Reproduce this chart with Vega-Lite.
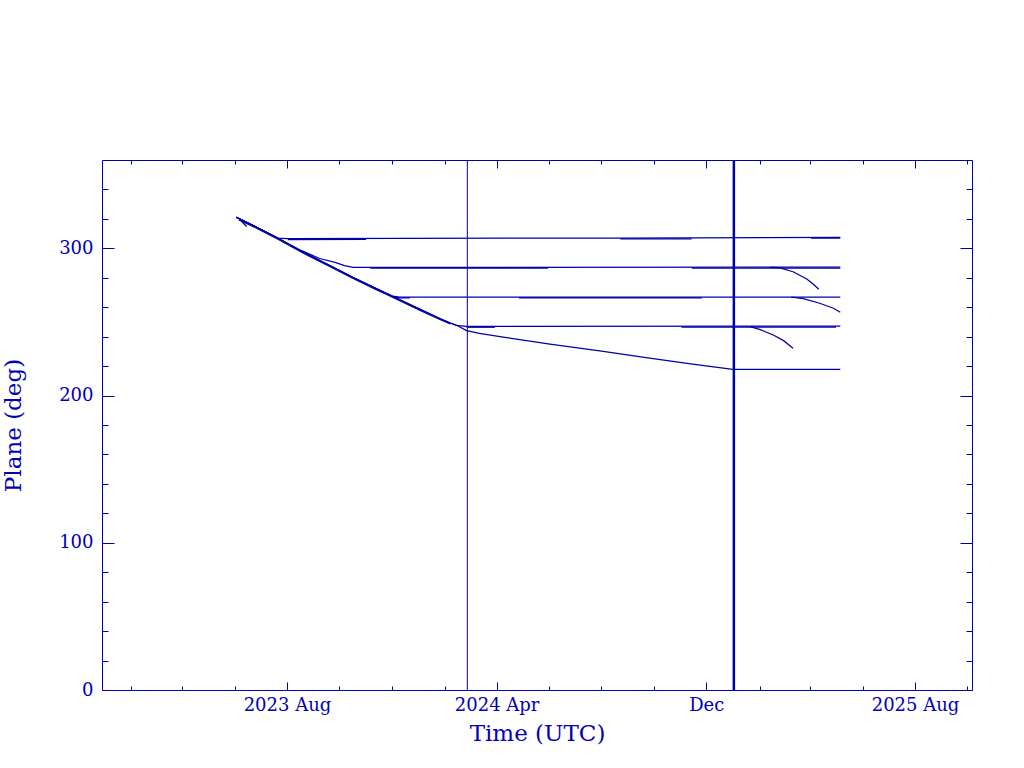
{
  "$schema": "https://vega.github.io/schema/vega-lite/v6.json",
  "width": 870,
  "height": 530,
  "autosize": "none",
  "padding": {"left": 102, "top": 160, "right": 52, "bottom": 78},
  "background": "white",
  "config": {
    "view": {"stroke": "#0000b0", "strokeWidth": 1},
    "axis": {
      "domain": false,
      "grid": false,
      "tickColor": "#0000b0",
      "tickWidth": 1,
      "labelColor": "#0000b8",
      "titleColor": "#0000b8",
      "labelFont": "DejaVu Serif",
      "titleFont": "DejaVu Serif",
      "labelFontSize": 18,
      "titleFontSize": 23,
      "titleFontWeight": "normal",
      "labelOverlap": false,
      "labelFlush": false,
      "labelBound": false
    }
  },
  "datasets": {
    "planes": [
      {"s": "P307", "t": "2023-06-03", "v": 321.1},
      {"s": "P307", "t": "2023-06-26", "v": 314.5},
      {"s": "P307", "t": "2023-07-21", "v": 307.0},
      {"s": "P307", "t": "2023-08-02", "v": 306.6},
      {"s": "P307", "t": "2024-08-23", "v": 307.0},
      {"s": "P307", "t": "2025-05-06", "v": 307.5},
      {"s": "P287", "t": "2023-06-03", "v": 321.1},
      {"s": "P287", "t": "2023-06-26", "v": 314.5},
      {"s": "P287", "t": "2023-07-21", "v": 307.0},
      {"s": "P287", "t": "2023-08-18", "v": 298.4},
      {"s": "P287", "t": "2023-09-08", "v": 293.1},
      {"s": "P287", "t": "2023-09-26", "v": 290.4},
      {"s": "P287", "t": "2023-10-07", "v": 288.3},
      {"s": "P287", "t": "2023-10-17", "v": 287.1},
      {"s": "P287", "t": "2025-05-06", "v": 287.2},
      {"s": "P267", "t": "2023-06-03", "v": 321.1},
      {"s": "P267", "t": "2023-06-26", "v": 314.5},
      {"s": "P267", "t": "2023-07-21", "v": 307.0},
      {"s": "P267", "t": "2023-08-18", "v": 297.9},
      {"s": "P267", "t": "2023-09-22", "v": 287.7},
      {"s": "P267", "t": "2023-10-17", "v": 280.2},
      {"s": "P267", "t": "2023-11-11", "v": 273.1},
      {"s": "P267", "t": "2023-11-25", "v": 269.3},
      {"s": "P267", "t": "2023-12-02", "v": 267.6},
      {"s": "P267", "t": "2023-12-10", "v": 266.9},
      {"s": "P267", "t": "2025-05-06", "v": 266.9},
      {"s": "P247", "t": "2023-06-03", "v": 321.1},
      {"s": "P247", "t": "2023-06-26", "v": 314.5},
      {"s": "P247", "t": "2023-07-21", "v": 307.0},
      {"s": "P247", "t": "2023-08-18", "v": 297.9},
      {"s": "P247", "t": "2023-09-22", "v": 287.7},
      {"s": "P247", "t": "2023-10-17", "v": 280.2},
      {"s": "P247", "t": "2023-11-11", "v": 273.1},
      {"s": "P247", "t": "2023-11-25", "v": 269.3},
      {"s": "P247", "t": "2024-01-03", "v": 258.5},
      {"s": "P247", "t": "2024-01-26", "v": 252.3},
      {"s": "P247", "t": "2024-02-07", "v": 249.3},
      {"s": "P247", "t": "2024-02-14", "v": 247.7},
      {"s": "P247", "t": "2024-02-26", "v": 247.0},
      {"s": "P247", "t": "2025-05-06", "v": 247.1},
      {"s": "P217", "t": "2023-06-03", "v": 321.1},
      {"s": "P217", "t": "2023-06-26", "v": 314.5},
      {"s": "P217", "t": "2023-07-21", "v": 307.0},
      {"s": "P217", "t": "2023-08-18", "v": 297.9},
      {"s": "P217", "t": "2023-09-22", "v": 287.7},
      {"s": "P217", "t": "2023-10-17", "v": 280.2},
      {"s": "P217", "t": "2023-11-11", "v": 273.1},
      {"s": "P217", "t": "2023-11-25", "v": 269.3},
      {"s": "P217", "t": "2024-01-03", "v": 258.5},
      {"s": "P217", "t": "2024-01-26", "v": 252.3},
      {"s": "P217", "t": "2024-02-07", "v": 249.3},
      {"s": "P217", "t": "2024-02-14", "v": 247.9},
      {"s": "P217", "t": "2024-02-26", "v": 244.1},
      {"s": "P217", "t": "2024-03-12", "v": 242.2},
      {"s": "P217", "t": "2024-04-05", "v": 240.0},
      {"s": "P217", "t": "2024-06-02", "v": 235.0},
      {"s": "P217", "t": "2024-07-30", "v": 230.3},
      {"s": "P217", "t": "2024-09-26", "v": 225.5},
      {"s": "P217", "t": "2024-11-15", "v": 221.4},
      {"s": "P217", "t": "2025-01-01", "v": 217.8},
      {"s": "P217", "t": "2025-05-06", "v": 217.8}
    ],
    "doubles": [
      {"s": "DM", "t": "2023-06-06", "v": 319.3},
      {"s": "DM", "t": "2023-06-26", "v": 313.9},
      {"s": "DM", "t": "2023-07-21", "v": 306.4},
      {"s": "DM", "t": "2023-08-18", "v": 297.3},
      {"s": "DM", "t": "2023-09-22", "v": 287.1},
      {"s": "DM", "t": "2023-10-17", "v": 279.6},
      {"s": "DM", "t": "2023-11-11", "v": 272.5},
      {"s": "DM", "t": "2023-11-25", "v": 268.7},
      {"s": "DM", "t": "2024-01-03", "v": 257.9},
      {"s": "DM", "t": "2024-01-26", "v": 251.7},
      {"s": "DM", "t": "2024-02-07", "v": 248.7},
      {"s": "D307a", "t": "2023-08-02", "v": 306.0},
      {"s": "D307a", "t": "2023-11-01", "v": 306.1},
      {"s": "D307b", "t": "2024-08-23", "v": 306.4},
      {"s": "D307b", "t": "2024-11-14", "v": 306.5},
      {"s": "D307c", "t": "2025-04-02", "v": 306.85},
      {"s": "D307c", "t": "2025-05-06", "v": 306.9},
      {"s": "D287a", "t": "2023-11-06", "v": 286.5},
      {"s": "D287a", "t": "2024-05-31", "v": 286.55},
      {"s": "D287b", "t": "2024-11-14", "v": 286.6},
      {"s": "D287b", "t": "2025-05-06", "v": 286.6},
      {"s": "D267a", "t": "2023-12-02", "v": 267.0},
      {"s": "D267a", "t": "2023-12-10", "v": 266.3},
      {"s": "D267a", "t": "2023-12-22", "v": 266.3},
      {"s": "D267b", "t": "2024-04-27", "v": 266.3},
      {"s": "D267b", "t": "2024-11-26", "v": 266.3},
      {"s": "D247a", "t": "2024-02-26", "v": 246.4},
      {"s": "D247a", "t": "2024-03-30", "v": 246.4},
      {"s": "D247b", "t": "2024-11-02", "v": 246.5},
      {"s": "D247b", "t": "2025-05-01", "v": 246.5}
    ],
    "decays": [
      {"s": "E287", "t": "2025-02-13", "v": 287.1},
      {"s": "E287", "t": "2025-02-24", "v": 286.9},
      {"s": "E287", "t": "2025-03-12", "v": 284.1},
      {"s": "E287", "t": "2025-03-28", "v": 279.2},
      {"s": "E287", "t": "2025-04-04", "v": 275.9},
      {"s": "E287", "t": "2025-04-11", "v": 272.2},
      {"s": "E267", "t": "2025-03-10", "v": 266.9},
      {"s": "E267", "t": "2025-03-24", "v": 265.8},
      {"s": "E267", "t": "2025-04-12", "v": 262.7},
      {"s": "E267", "t": "2025-04-28", "v": 259.3},
      {"s": "E267", "t": "2025-05-06", "v": 256.6},
      {"s": "E247", "t": "2025-01-21", "v": 246.8},
      {"s": "E247", "t": "2025-02-01", "v": 245.0},
      {"s": "E247", "t": "2025-02-17", "v": 241.1},
      {"s": "E247", "t": "2025-03-01", "v": 237.3},
      {"s": "E247", "t": "2025-03-12", "v": 232.1}
    ],
    "twig": [
      {"s": "T1", "t": "2023-06-06", "v": 320.4},
      {"s": "T1", "t": "2023-06-15", "v": 314.8}
    ],
    "eventA": [{"t": "2024-02-26T22:00:00Z"}],
    "eventB": [{"t": "2025-01-02T03:00:00Z"}]
  },
  "resolve": {"axis": {"x": "independent", "y": "independent"}},
  "layer": [
    {
      "data": {"name": "planes"},
      "mark": {"type": "line", "color": "#0000a8", "strokeWidth": 1.25},
      "encoding": {
        "x": {
          "field": "t", "type": "temporal",
          "scale": {"type": "utc", "nice": false, "domain": [{"year": 2022, "month": 12, "date": 28, "hours": 17, "utc": true}, {"year": 2025, "month": 10, "date": 6, "hours": 7, "utc": true}]},
          "axis": {
            "orient": "bottom",
            "title": "Time (UTC)",
            "titlePadding": 8,
            "values": [
              {"year": 2023, "month": 8, "date": 1, "utc": true},
              {"year": 2024, "month": 4, "date": 1, "utc": true},
              {"year": 2024, "month": 12, "date": 1, "utc": true},
              {"year": 2025, "month": 8, "date": 1, "utc": true}
            ],
            "tickSize": -8,
            "labelPadding": 14,
            "labelExpr": "utcFormat(datum.value, '%m') == '12' ? 'Dec' : utcFormat(datum.value, '%Y %b')"
          }
        },
        "y": {
          "field": "v", "type": "quantitative",
          "scale": {"domain": [0, 360], "nice": false, "zero": true},
          "axis": {
            "orient": "left",
            "title": "Plane (deg)",
            "titlePadding": 33,
            "values": [0, 100, 200, 300],
            "tickSize": -12,
            "labelPadding": 21
          }
        },
        "detail": {"field": "s"}
      }
    },
    {
      "data": {"name": "doubles"},
      "mark": {"type": "line", "color": "#0000a8", "strokeWidth": 1.25},
      "encoding": {
        "x": {
          "field": "t", "type": "temporal",
          "scale": {"type": "utc", "nice": false, "domain": [{"year": 2022, "month": 12, "date": 28, "hours": 17, "utc": true}, {"year": 2025, "month": 10, "date": 6, "hours": 7, "utc": true}]},
          "axis": {
            "orient": "bottom", "title": null, "labels": false, "tickSize": -4,
            "values": [
              {"year": 2023, "month": 2, "date": 1, "utc": true},
              {"year": 2023, "month": 4, "date": 1, "utc": true},
              {"year": 2023, "month": 6, "date": 1, "utc": true},
              {"year": 2023, "month": 10, "date": 1, "utc": true},
              {"year": 2023, "month": 12, "date": 1, "utc": true},
              {"year": 2024, "month": 2, "date": 1, "utc": true},
              {"year": 2024, "month": 6, "date": 1, "utc": true},
              {"year": 2024, "month": 8, "date": 1, "utc": true},
              {"year": 2024, "month": 10, "date": 1, "utc": true},
              {"year": 2025, "month": 2, "date": 1, "utc": true},
              {"year": 2025, "month": 4, "date": 1, "utc": true},
              {"year": 2025, "month": 6, "date": 1, "utc": true},
              {"year": 2025, "month": 10, "date": 1, "utc": true}
            ]
          }
        },
        "y": {
          "field": "v", "type": "quantitative",
          "scale": {"domain": [0, 360], "nice": false, "zero": true},
          "axis": {
            "orient": "left", "title": null, "labels": false, "tickSize": -6,
            "values": [20, 40, 60, 80, 120, 140, 160, 180, 220, 240, 260, 280, 320, 340]
          }
        },
        "detail": {"field": "s"}
      }
    },
    {
      "data": {"name": "decays"},
      "mark": {"type": "line", "color": "#0000a8", "strokeWidth": 1.25},
      "encoding": {
        "x": {
          "field": "t", "type": "temporal",
          "scale": {"type": "utc", "nice": false, "domain": [{"year": 2022, "month": 12, "date": 28, "hours": 17, "utc": true}, {"year": 2025, "month": 10, "date": 6, "hours": 7, "utc": true}]},
          "axis": {
            "orient": "top", "title": null, "labels": false, "tickSize": -8,
            "values": [
              {"year": 2023, "month": 8, "date": 1, "utc": true},
              {"year": 2024, "month": 4, "date": 1, "utc": true},
              {"year": 2024, "month": 12, "date": 1, "utc": true},
              {"year": 2025, "month": 8, "date": 1, "utc": true}
            ]
          }
        },
        "y": {
          "field": "v", "type": "quantitative",
          "scale": {"domain": [0, 360], "nice": false, "zero": true},
          "axis": {
            "orient": "right", "title": null, "labels": false, "tickSize": -12,
            "values": [0, 100, 200, 300]
          }
        },
        "detail": {"field": "s"}
      }
    },
    {
      "data": {"name": "twig"},
      "mark": {"type": "line", "color": "#0000a8", "strokeWidth": 1.25},
      "encoding": {
        "x": {
          "field": "t", "type": "temporal",
          "scale": {"type": "utc", "nice": false, "domain": [{"year": 2022, "month": 12, "date": 28, "hours": 17, "utc": true}, {"year": 2025, "month": 10, "date": 6, "hours": 7, "utc": true}]},
          "axis": {
            "orient": "top", "title": null, "labels": false, "tickSize": -4,
            "values": [
              {"year": 2023, "month": 2, "date": 1, "utc": true},
              {"year": 2023, "month": 4, "date": 1, "utc": true},
              {"year": 2023, "month": 6, "date": 1, "utc": true},
              {"year": 2023, "month": 10, "date": 1, "utc": true},
              {"year": 2023, "month": 12, "date": 1, "utc": true},
              {"year": 2024, "month": 2, "date": 1, "utc": true},
              {"year": 2024, "month": 6, "date": 1, "utc": true},
              {"year": 2024, "month": 8, "date": 1, "utc": true},
              {"year": 2024, "month": 10, "date": 1, "utc": true},
              {"year": 2025, "month": 2, "date": 1, "utc": true},
              {"year": 2025, "month": 4, "date": 1, "utc": true},
              {"year": 2025, "month": 6, "date": 1, "utc": true},
              {"year": 2025, "month": 10, "date": 1, "utc": true}
            ]
          }
        },
        "y": {
          "field": "v", "type": "quantitative",
          "scale": {"domain": [0, 360], "nice": false, "zero": true},
          "axis": {
            "orient": "right", "title": null, "labels": false, "tickSize": -6,
            "values": [20, 40, 60, 80, 120, 140, 160, 180, 220, 240, 260, 280, 320, 340]
          }
        },
        "detail": {"field": "s"}
      }
    },
    {
      "data": {"name": "eventA"},
      "mark": {"type": "rule", "color": "#0000a8", "strokeWidth": 1},
      "encoding": {
        "x": {
          "field": "t", "type": "temporal",
          "scale": {"type": "utc", "nice": false, "domain": [{"year": 2022, "month": 12, "date": 28, "hours": 17, "utc": true}, {"year": 2025, "month": 10, "date": 6, "hours": 7, "utc": true}]},
          "axis": null
        }
      }
    },
    {
      "data": {"name": "eventB"},
      "mark": {"type": "rule", "color": "#0000a8", "strokeWidth": 2.5},
      "encoding": {
        "x": {
          "field": "t", "type": "temporal",
          "scale": {"type": "utc", "nice": false, "domain": [{"year": 2022, "month": 12, "date": 28, "hours": 17, "utc": true}, {"year": 2025, "month": 10, "date": 6, "hours": 7, "utc": true}]},
          "axis": null
        }
      }
    }
  ]
}
